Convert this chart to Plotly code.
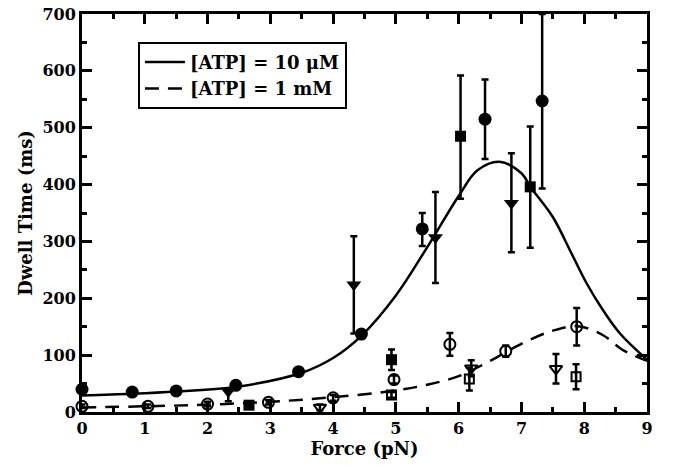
import plotly.graph_objects as go

# ---- data ----
# 10 uM ATP (filled symbols)
fc_F = [0, 0.8, 1.5, 2.45, 3.45, 4.45, 5.42, 6.42, 7.33]
fc_T = [40, 35, 37, 47, 71, 137, 322, 515, 547]
fc_ep = [0, 0, 0, 0, 0, 0, 28, 70, 153]
fc_em = [0, 0, 0, 0, 0, 0, 30, 70, 154]

fs_F = [2.66, 4.93, 6.03, 7.14]
fs_T = [12, 92, 485, 396]
fs_ep = [0, 18, 107, 106]
fs_em = [0, 18, 110, 107]

ft_F = [2.33, 4.33, 5.63, 6.84]
ft_T = [36, 224, 307, 367]
ft_ep = [0, 85, 80, 88]
ft_em = [17, 86, 80, 86]

# 1 mM ATP (open symbols)
oc_F = [0, 1.05, 2.0, 2.97, 4.0, 4.97, 5.86, 6.75, 7.88]
oc_T = [10, 10, 14, 17, 25, 57, 119, 107, 150]
oc_e = [3, 3, 4, 4, 5, 7, 20, 10, 33]

ot_F = [3.79, 6.2, 7.55]
ot_T = [8, 77, 76]
ot_e = [5, 14, 26]

os_F = [4.93, 6.17, 7.87]
os_T = [30, 58, 62]
os_e = [5, 20, 22]

# fitted curves
fit10_F = [0, 0.8, 1.5, 2.5, 3.5, 4.0, 4.45, 5.0, 5.5, 6.0, 6.3, 6.65, 7.0, 7.15, 7.5, 7.77, 8.04, 8.3, 8.57, 9.0]
fit10_T = [29, 32, 36, 45, 69, 95, 134, 205, 290, 380, 425, 440, 420, 395, 343, 285, 226, 179, 138, 92]
fit1m_F = [0, 1, 2, 3, 4, 5, 5.5, 6, 6.5, 7, 7.5, 7.9, 8.3, 8.6, 9.0]
fit1m_T = [8, 10, 13, 18, 26, 38, 48, 63, 90, 120, 143, 151, 135, 110, 90]

x_ticks = [0, 1, 2, 3, 4, 5, 6, 7, 8, 9]
y_ticks = [0, 100, 200, 300, 400, 500, 600, 700]
legend_labels = ["[ATP] = 10 \u03bcM", "[ATP] = 1 mM"]

FONT = "DejaVu Serif"
fig = go.Figure()

fig.add_trace(go.Scatter(x=fit10_F, y=fit10_T, mode="lines", line=dict(color="black", width=2.5, shape="spline"),
                         name=legend_labels[0]))
fig.add_trace(go.Scatter(x=fit1m_F, y=fit1m_T, mode="lines",
                         line=dict(color="black", width=2.5, shape="spline", dash="14px,9px"),
                         name=legend_labels[1]))

def pts(x, y, ep, em, symbol, size, lw=2):
    fig.add_trace(go.Scatter(
        x=x, y=y, mode="markers", showlegend=False, cliponaxis=False,
        marker=dict(symbol=symbol, size=size, color="black", line=dict(color="black", width=lw)),
        error_y=dict(type="data", array=ep, arrayminus=em, symmetric=False,
                     color="black", thickness=2.5, width=3.5)))

pts(fc_F, fc_T, fc_ep, fc_em, "circle", 13, 0)
pts(fs_F, fs_T, fs_ep, fs_em, "square", 11, 0)
pts(ft_F, ft_T, ft_ep, ft_em, "triangle-down", 13, 0)
pts(oc_F, oc_T, oc_e, oc_e, "circle-open", 11, 2)
pts(ot_F, ot_T, ot_e, ot_e, "triangle-down-open", 11, 2)
pts(os_F, os_T, os_e, os_e, "square-open", 9, 2)

axis_common = dict(showline=True, linecolor="black", linewidth=3, mirror="ticks",
                   ticks="inside", ticklen=10, tickwidth=2.5, tickcolor="black",
                   showgrid=False, zeroline=False, automargin=False,
                   ticklabeloverflow="allow",
                   tickfont=dict(family=FONT, size=16, color="black", weight="bold"))

fig.update_xaxes(range=[0, 9], tickvals=x_ticks, ticktext=[str(v) for v in x_ticks],
                 minor=dict(ticks="inside", dtick=0.5, ticklen=5, tickwidth=2.5, tickcolor="black"),
                 title=dict(text="Force (pN)", font=dict(family=FONT, size=18, color="black", weight="bold"),
                            standoff=2),
                 **axis_common)
fig.update_yaxes(range=[0, 700], tickvals=y_ticks, ticktext=[str(v) for v in y_ticks],
                 minor=dict(ticks="inside", dtick=50, ticklen=5, tickwidth=2.5, tickcolor="black"),
                 title=dict(text="Dwell Time (ms)", font=dict(family=FONT, size=18, color="black", weight="bold"),
                            standoff=6),
                 **axis_common)

fig.update_layout(
    width=675, height=468,
    margin=dict(l=82, r=28, t=14, b=56, autoexpand=False),
    plot_bgcolor="white", paper_bgcolor="white",
    showlegend=True,
    legend=dict(x=0.099, y=0.93, xanchor="left", yanchor="top",
                bordercolor="black", borderwidth=2, bgcolor="white",
                font=dict(family=FONT, size=18, color="black", weight="bold"),
                itemwidth=40, tracegroupgap=0),
)

fig.write_html("out.html", config={"displayModeBar": False},
               post_script="document.body.style.margin='0';")
